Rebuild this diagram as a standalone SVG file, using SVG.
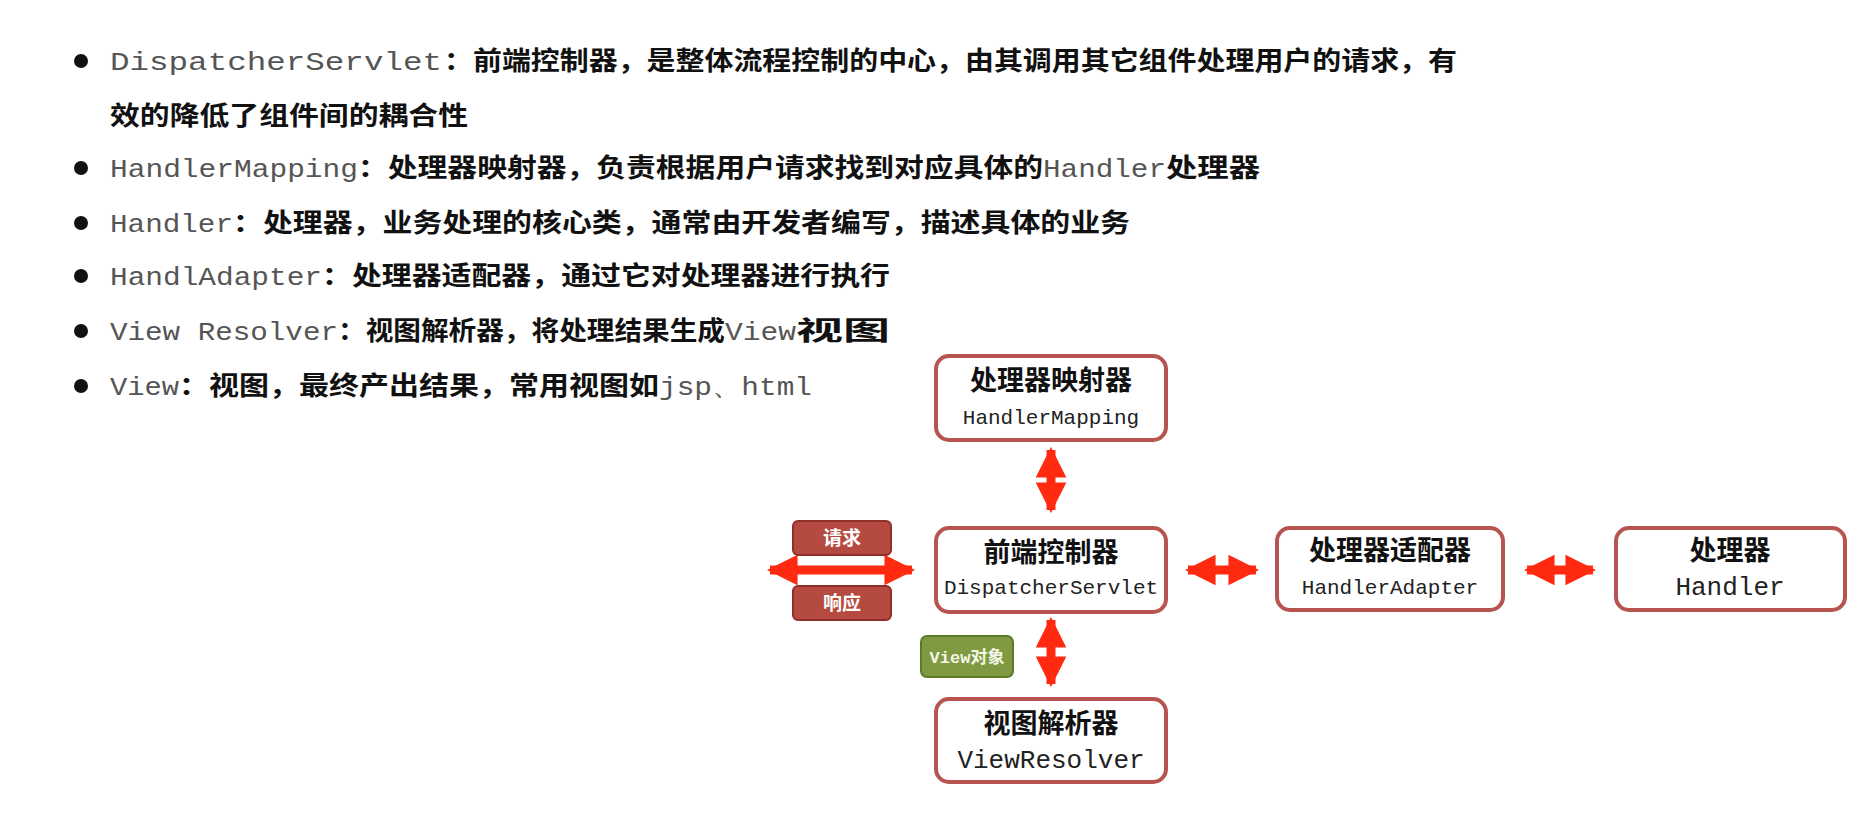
<svg xmlns="http://www.w3.org/2000/svg" width="1873" height="819" viewBox="0 0 1873 819">
<defs>
<style>
.m{font-family:"Liberation Mono",monospace;font-size:25px;fill:#555}
.c{font-family:"Noto Sans CJK SC",sans-serif;font-size:26px;font-weight:bold;fill:#111}
.box{fill:#fff;stroke:#b85450;stroke-width:4}
.bt{font-family:"Noto Sans CJK SC",sans-serif;font-size:27px;font-weight:bold;fill:#111;text-anchor:middle}
.bm{font-family:"Liberation Mono",monospace;font-size:21px;fill:#222;text-anchor:middle}
.lab{fill:#b54a40;stroke:#8e2f28;stroke-width:2}
.lt{font-family:"Noto Sans CJK SC",sans-serif;font-size:19px;font-weight:bold;fill:#fff;text-anchor:middle}
.ar{stroke:#ff2a10;stroke-width:9;fill:none;marker-start:url(#h);marker-end:url(#h)}
</style>
<marker id="h" viewBox="0 0 10 10" refX="9" refY="5" markerWidth="3.4" markerHeight="4" orient="auto-start-reverse" markerUnits="strokeWidth"><path d="M0,0L10,5L0,10z" fill="#ff2a10"/></marker>
</defs>
<rect width="1873" height="819" fill="#fff"/>
<g id="bullets" fill="#111">
<circle cx="81" cy="61" r="7"/><circle cx="81" cy="168" r="7"/><circle cx="81" cy="223" r="7"/><circle cx="81" cy="276" r="7"/><circle cx="81" cy="331" r="7"/><circle cx="81" cy="386" r="7"/>
</g>
<g id="text">
<text class="m" x="110" y="70" textLength="332" lengthAdjust="spacingAndGlyphs">DispatcherServlet</text>
<text class="c" x="444" y="70" textLength="1013" lengthAdjust="spacingAndGlyphs">：前端控制器，是整体流程控制的中心，由其调用其它组件处理用户的请求，有</text>
<text class="c" x="110" y="125" textLength="358" lengthAdjust="spacingAndGlyphs">效的降低了组件间的耦合性</text>
<text class="m" x="110" y="177" textLength="248" lengthAdjust="spacingAndGlyphs">HandlerMapping</text>
<text class="c" x="358" y="177" textLength="685" lengthAdjust="spacingAndGlyphs">：处理器映射器，负责根据用户请求找到对应具体的</text>
<text class="m" x="1043" y="177" textLength="123" lengthAdjust="spacingAndGlyphs">Handler</text>
<text class="c" x="1166" y="177" textLength="94" lengthAdjust="spacingAndGlyphs">处理器</text>
<text class="m" x="110" y="232" textLength="123" lengthAdjust="spacingAndGlyphs">Handler</text>
<text class="c" x="233" y="232" textLength="897" lengthAdjust="spacingAndGlyphs">：处理器，业务处理的核心类，通常由开发者编写，描述具体的业务</text>
<text class="m" x="110" y="285" textLength="212" lengthAdjust="spacingAndGlyphs">HandlAdapter</text>
<text class="c" x="322" y="285" textLength="568" lengthAdjust="spacingAndGlyphs">：处理器适配器，通过它对处理器进行执行</text>
<text class="m" x="110" y="340" textLength="228" lengthAdjust="spacingAndGlyphs">View Resolver</text>
<text class="c" x="338" y="340" textLength="387" lengthAdjust="spacingAndGlyphs">：视图解析器，将处理结果生成</text>
<text class="m" x="725" y="340" textLength="71" lengthAdjust="spacingAndGlyphs">View</text>
<text class="c" x="796" y="340" textLength="94" lengthAdjust="spacingAndGlyphs">视图</text>
<text class="m" x="110" y="395" textLength="69" lengthAdjust="spacingAndGlyphs">View</text>
<text class="c" x="179" y="395" textLength="480" lengthAdjust="spacingAndGlyphs">：视图，最终产出结果，常用视图如</text>
<text class="m" x="659" y="395" textLength="153" lengthAdjust="spacingAndGlyphs">jsp、html</text>
</g>
<g id="connectors">
<line class="ar" x1="1051" y1="450" x2="1051" y2="510"/>
<line class="ar" x1="1051" y1="620" x2="1051" y2="684"/>
<line class="ar" x1="770" y1="570" x2="912" y2="570"/>
<line class="ar" x1="1188" y1="570" x2="1256" y2="570"/>
<line class="ar" x1="1527" y1="570" x2="1593" y2="570"/>
</g>
<g id="mapping"><rect class="box" x="936" y="356" width="230" height="84" rx="13"/><text class="bt" x="1051" y="390">处理器映射器</text><text class="bm" x="1051" y="424">HandlerMapping</text></g>
<g id="dispatcher"><rect class="box" x="936" y="528" width="230" height="84" rx="13"/><text class="bt" x="1051" y="562">前端控制器</text><text class="bm" x="1051" y="594">DispatcherServlet</text></g>
<g id="adapter"><rect class="box" x="1277" y="528" width="226" height="82" rx="13"/><text class="bt" x="1390" y="560">处理器适配器</text><text class="bm" x="1390" y="594">HandlerAdapter</text></g>
<g id="handler"><rect class="box" x="1616" y="528" width="229" height="82" rx="13"/><text class="bt" x="1730" y="560">处理器</text><text class="bm" x="1730" y="595" style="font-size:26px">Handler</text></g>
<g id="resolver"><rect class="box" x="936" y="699" width="230" height="83" rx="13"/><text class="bt" x="1051" y="733">视图解析器</text><text class="bm" x="1051" y="768" style="font-size:26px">ViewResolver</text></g>
<g id="req"><rect class="lab" x="793" y="521" width="98" height="34" rx="5"/><text class="lt" x="842" y="545">请求</text></g>
<g id="resp"><rect class="lab" x="793" y="586" width="98" height="34" rx="5"/><text class="lt" x="842" y="610">响应</text></g>
<g id="viewobj"><rect x="921" y="636" width="92" height="41" rx="6" fill="#7f9a40" stroke="#5d7a2a" stroke-width="2"/><text x="967" y="663" text-anchor="middle" font-family="Liberation Mono,Noto Sans CJK SC,monospace" font-size="17" font-weight="bold" fill="#f4f8e8">View对象</text></g>
</svg>
